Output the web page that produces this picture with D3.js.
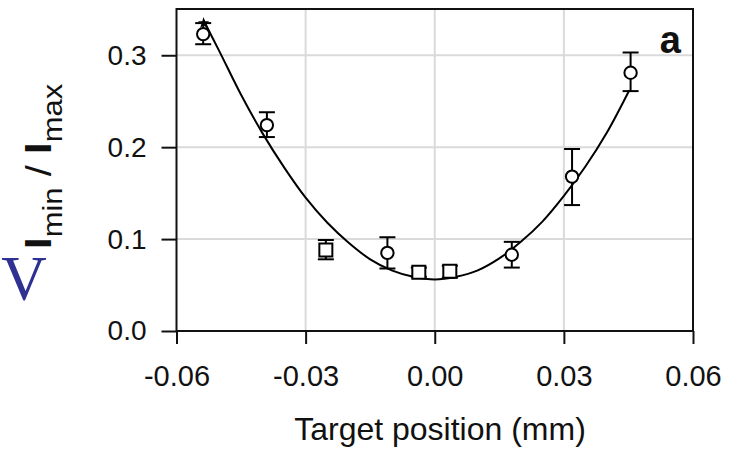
<!DOCTYPE html>
<html>
<head>
<meta charset="utf-8">
<script src="https://cdn.jsdelivr.net/npm/d3@7"></script>
<style>
  html, body { margin: 0; padding: 0; background: #fff; }
  svg { display: block; }
</style>
</head>
<body>
<svg width="740" height="449"></svg>
<script>
// measured points (target position in mm, Imin/Imax)
const xValues = [-0.0538, -0.039, -0.0253, -0.011, -0.0037, 0.0035, 0.0179, 0.0319, 0.0455];
const yValues = [0.323, 0.224, 0.088, 0.085, 0.064, 0.065, 0.083, 0.168, 0.281];
const yLow    = [0.312, 0.211, 0.078, 0.068, 0.059, 0.058, 0.069, 0.137, 0.261];
const yHigh   = [0.335, 0.238, 0.099, 0.102, 0.069, 0.071, 0.097, 0.198, 0.303];
const shapes  = ["circle", "circle", "square", "circle", "square", "square", "circle", "circle", "circle"];

// fitted curve
const fitX = [-0.0537, -0.050, -0.045, -0.040, -0.035, -0.030, -0.025, -0.020, -0.015, -0.010, -0.005,
              0.000, 0.005, 0.010, 0.015, 0.020, 0.025, 0.030, 0.035, 0.040, 0.0452];
const fitY = [0.338, 0.304, 0.257, 0.215, 0.178, 0.145, 0.118, 0.096, 0.078, 0.066, 0.059,
              0.056, 0.059, 0.066, 0.079, 0.097, 0.119, 0.147, 0.179, 0.216, 0.262];

// star marker at the top of the curve
const starPoint = [-0.0537, 0.335];

const xTicks = [-0.06, -0.03, 0, 0.03, 0.06];
const yTicks = [0, 0.1, 0.2, 0.3];
const xGrid = [-0.03, 0, 0.03];
const yGrid = [0.1, 0.2, 0.3];

const svg = d3.select("svg");
const font = "'Liberation Sans', Arial, Helvetica, sans-serif";

const plotL = 176.5, plotR = 693, plotT = 9, plotB = 331;

const x = d3.scaleLinear().domain([-0.06, 0.06]).range([plotL, plotR]);
const y = d3.scaleLinear().domain([0, 0.35]).range([plotB, plotT + 0.3]);

// grid
svg.append("g").selectAll("line")
  .data(xGrid)
  .join("line")
  .attr("x1", d => x(d)).attr("x2", d => x(d))
  .attr("y1", plotT).attr("y2", plotB)
  .attr("stroke", "#dadada").attr("stroke-width", 2);

svg.append("g").selectAll("line")
  .data(yGrid)
  .join("line")
  .attr("x1", plotL).attr("x2", plotR)
  .attr("y1", d => y(d)).attr("y2", d => y(d))
  .attr("stroke", "#dadada").attr("stroke-width", 2);

// axes
const xAxis = svg.append("g")
  .attr("transform", `translate(0,${plotB})`)
  .call(d3.axisBottom(x).tickValues(xTicks).tickSize(13).tickPadding(21)
    .tickFormat(d => d.toFixed(2)));

const yAxis = svg.append("g")
  .attr("transform", `translate(${plotL},0)`)
  .call(d3.axisLeft(y).tickValues(yTicks).tickSize(15).tickPadding(15)
    .tickFormat(d => d.toFixed(1)));

[xAxis, yAxis].forEach(g => {
  g.select(".domain").remove();
  g.selectAll(".tick line").attr("stroke", "#111").attr("stroke-width", 2);
  g.selectAll(".tick text").attr("fill", "#111").style("font-family", font);
});
xAxis.selectAll(".tick text").style("font-size", "29px");
yAxis.selectAll(".tick text").style("font-size", "28px");

// frame
svg.append("rect")
  .attr("x", plotL).attr("y", plotT)
  .attr("width", plotR - plotL).attr("height", plotB - plotT)
  .attr("fill", "none").attr("stroke", "#111").attr("stroke-width", 2);

// fitted curve
const fit = fitX.map((d, i) => [d, fitY[i]]);
svg.append("path")
  .datum(fit)
  .attr("fill", "none")
  .attr("stroke", "#000")
  .attr("stroke-width", 2)
  .attr("d", d3.line().x(d => x(d[0])).y(d => y(d[1])).curve(d3.curveCatmullRom));

// error bars
const pts = xValues.map((d, i) => ({ x: d, y: yValues[i], lo: yLow[i], hi: yHigh[i], shape: shapes[i] }));
const capW = 8;
const eb = svg.append("g").attr("stroke", "#000").attr("stroke-width", 2);
pts.forEach(p => {
  eb.append("line").attr("x1", x(p.x)).attr("x2", x(p.x)).attr("y1", y(p.lo)).attr("y2", y(p.hi));
  eb.append("line").attr("x1", x(p.x) - capW).attr("x2", x(p.x) + capW).attr("y1", y(p.lo)).attr("y2", y(p.lo));
  eb.append("line").attr("x1", x(p.x) - capW).attr("x2", x(p.x) + capW).attr("y1", y(p.hi)).attr("y2", y(p.hi));
});

// markers
svg.append("g").selectAll("path")
  .data(pts)
  .join("path")
  .attr("transform", d => `translate(${x(d.x)},${y(d.y)})`)
  .attr("d", d => d.shape === "square"
    ? d3.symbol(d3.symbolSquare, 169)()
    : d3.symbol(d3.symbolCircle, 120)())
  .attr("fill", "#fff")
  .attr("stroke", "#000")
  .attr("stroke-width", 2);

svg.append("path")
  .attr("transform", `translate(${x(starPoint[0])},${y(starPoint[1])})`)
  .attr("d", d3.symbol(d3.symbolStar, 40)())
  .attr("fill", "#000");

// panel letter
svg.append("text")
  .attr("x", 681).attr("y", 53)
  .attr("text-anchor", "end")
  .style("font-family", font)
  .style("font-size", "38px")
  .style("font-weight", "bold")
  .attr("fill", "#111")
  .text("a");

// x title
svg.append("text")
  .attr("x", 440).attr("y", 440)
  .attr("text-anchor", "middle")
  .style("font-family", font)
  .style("font-size", "32px")
  .attr("fill", "#111")
  .text("Target position (mm)");

// y title (rotated)
const yt = svg.append("text")
  .attr("transform", "translate(51,249) rotate(-90) scale(1,0.87)")
  .style("font-family", font)
  .attr("fill", "#111");
yt.append("tspan").style("font-size", "42px").style("font-weight", "bold").text("I");
yt.append("tspan").style("font-size", "31px").attr("dy", 13).text("min");
yt.append("tspan").style("font-size", "40px").attr("dy", -13).text(" / ");
yt.append("tspan").style("font-size", "42px").style("font-weight", "bold").text("I");
yt.append("tspan").style("font-size", "31px").attr("dy", 13).text("max");

// blue V
svg.append("text")
  .attr("x", 24).attr("y", 300)
  .attr("text-anchor", "middle")
  .style("font-family", "'Liberation Serif', 'Times New Roman', serif")
  .style("font-size", "63px")
  .attr("fill", "#2e3192")
  .text("V");
</script>
</body>
</html>
